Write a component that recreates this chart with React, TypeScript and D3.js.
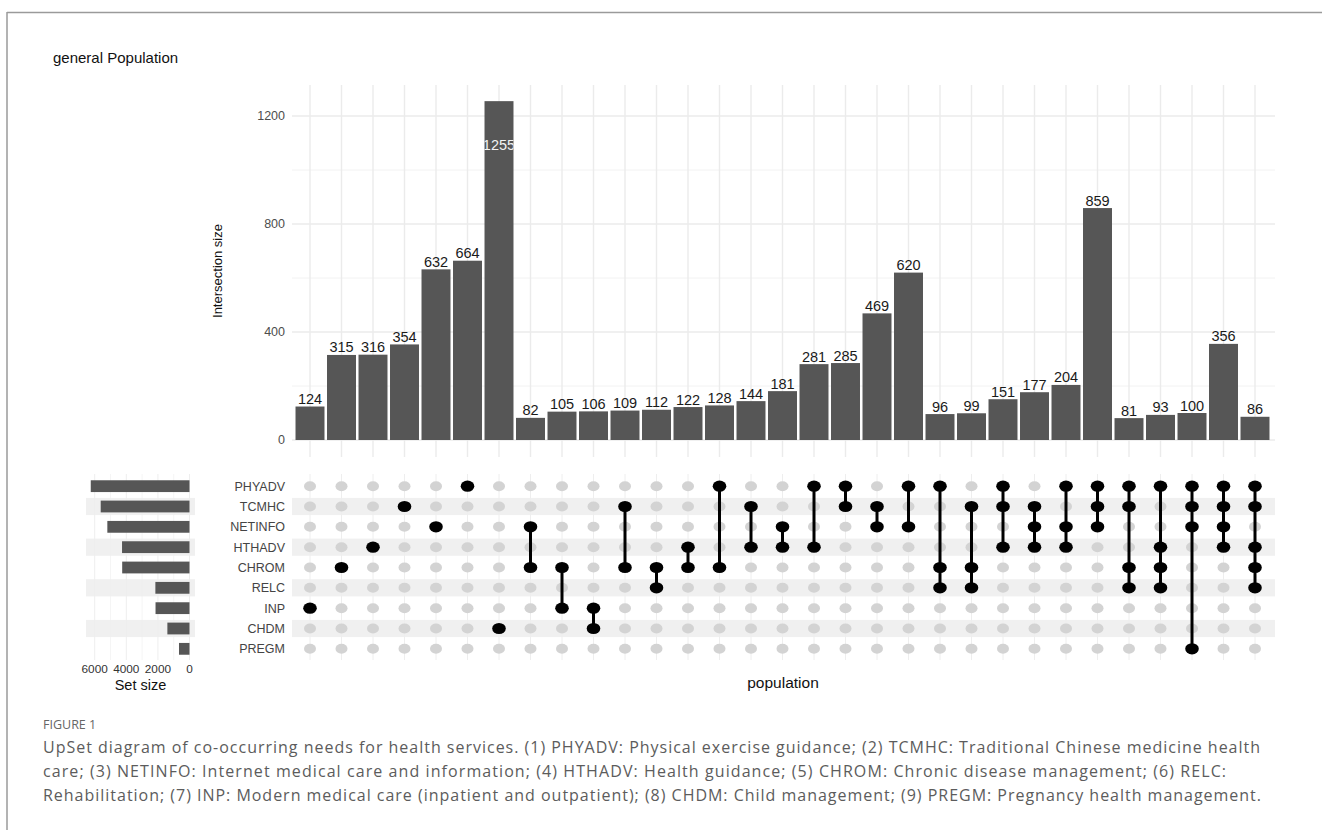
import React from "react";
import * as d3 from "d3";

const setNames = ["PHYADV", "TCMHC", "NETINFO", "HTHADV", "CHROM", "RELC", "INP", "CHDM", "PREGM"];
const setSizes = [6250, 5620, 5200, 4270, 4260, 2160, 2150, 1400, 665];

const intersectionSizes = [124, 315, 316, 354, 632, 664, 1255, 82, 105, 106, 109, 112, 122, 128, 144, 181, 281, 285, 469, 620, 96, 99, 151, 177, 204, 859, 81, 93, 100, 356, 86];
const intersectionMembers = [
  ["INP"], ["CHROM"], ["HTHADV"], ["TCMHC"], ["NETINFO"], ["PHYADV"], ["CHDM"],
  ["NETINFO", "CHROM"], ["CHROM", "INP"], ["INP", "CHDM"], ["TCMHC", "CHROM"], ["CHROM", "RELC"],
  ["HTHADV", "CHROM"], ["PHYADV", "CHROM"], ["TCMHC", "HTHADV"], ["NETINFO", "HTHADV"],
  ["PHYADV", "HTHADV"], ["PHYADV", "TCMHC"], ["TCMHC", "NETINFO"], ["PHYADV", "NETINFO"],
  ["PHYADV", "CHROM", "RELC"], ["TCMHC", "CHROM", "RELC"], ["PHYADV", "TCMHC", "HTHADV"],
  ["TCMHC", "NETINFO", "HTHADV"], ["PHYADV", "NETINFO", "HTHADV"], ["PHYADV", "TCMHC", "NETINFO"],
  ["PHYADV", "TCMHC", "CHROM", "RELC"], ["PHYADV", "HTHADV", "CHROM", "RELC"],
  ["PHYADV", "TCMHC", "NETINFO", "PREGM"], ["PHYADV", "TCMHC", "NETINFO", "HTHADV"],
  ["PHYADV", "TCMHC", "HTHADV", "CHROM", "RELC"],
];

const yTicks = [0, 400, 800, 1200];
const yMinor = [200, 600, 1000];
const setTicks = [6000, 4000, 2000, 0];
const setGrid = [0, 1000, 2000, 3000, 4000, 5000, 6000];

const titleText = "general Population";
const figureLabel = "FIGURE 1";
const captionLines = [
  "UpSet diagram of co-occurring needs for health services. (1) PHYADV: Physical exercise guidance; (2) TCMHC: Traditional Chinese medicine health",
  "care; (3) NETINFO: Internet medical care and information; (4) HTHADV: Health guidance; (5) CHROM: Chronic disease management; (6) RELC:",
  "Rehabilitation; (7) INP: Modern medical care (inpatient and outpatient); (8) CHDM: Child management; (9) PREGM: Pregnancy health management.",
];
const captionWidths = [1217, 1183, 1218];

const SANS = "'Liberation Sans', Arial, Helvetica, sans-serif";
const CAP = "'Open Sans', 'Noto Sans', sans-serif";

export default function App() {
  const W = 1322, H = 830;
  const ids = intersectionSizes.map((_, i) => String(i));
  const x = d3.scaleBand().domain(ids).range([294.25, 1270.75]).paddingInner(0.08).paddingOuter(0.04);
  const y = d3.scaleLinear().domain([0, 1200]).range([440, 116]);
  const row = d3.scaleBand().domain(setNames).range([476, 659]);
  const sx = d3.scaleLinear().domain([0, 6000]).range([189.5, 94.7]);

  const panelL = 292, panelR = 1275;
  const maxVal = d3.max(intersectionSizes) as number;
  const rowC = (s: string) => (row(s) as number) + row.bandwidth() / 2;
  const colC = (i: number) => (x(String(i)) as number) + x.bandwidth() / 2;

  return (
    <div style={{ position: "absolute", left: 0, top: 0 }}>
      <svg width={W} height={H} style={{ display: "block", background: "#fff" }}>
        {/* frame */}
        <line x1={7} y1={12.5} x2={W} y2={12.5} stroke="#9a9a9a" strokeWidth={1.5} />
        <line x1={7} y1={12} x2={7} y2={H} stroke="#9a9a9a" strokeWidth={1.5} />

        <text x={53} y={62.5} fontFamily={SANS} fontSize={15} fill="#111">{titleText}</text>

        {/* bar panel grid */}
        {yMinor.map((v) => (
          <line key={"mn" + v} x1={panelL} x2={panelR} y1={y(v)} y2={y(v)} stroke="#f2f2f2" strokeWidth={1} />
        ))}
        {yTicks.map((v) => (
          <line key={"mj" + v} x1={panelL} x2={panelR} y1={y(v)} y2={y(v)} stroke="#ebebeb" strokeWidth={1.4} />
        ))}
        {ids.map((id, i) => (
          <line key={"vg" + id} x1={colC(i)} x2={colC(i)} y1={85} y2={457} stroke="#ebebeb" strokeWidth={1.4} />
        ))}
        {yTicks.map((v) => (
          <text key={"yt" + v} x={285} y={y(v) + 4.3} textAnchor="end" fontFamily={SANS} fontSize={12.5} fill="#4d4d4d">{v}</text>
        ))}
        <text transform="translate(222,271) rotate(-90)" textAnchor="middle" fontFamily={SANS} fontSize={13} fill="#111">Intersection size</text>

        {/* bars */}
        <defs>
          {intersectionSizes.map((v, i) => (
            <clipPath key={"cp" + i} id={"barclip" + i}>
              <rect x={x(String(i))} y={y(v)} width={x.bandwidth()} height={y(0) - y(v)} />
            </clipPath>
          ))}
        </defs>
        {intersectionSizes.map((v, i) => (
          <rect key={"b" + i} x={x(String(i))} y={y(v)} width={x.bandwidth()} height={y(0) - y(v)} fill="#565656" />
        ))}
        {intersectionSizes.map((v, i) =>
          v === maxVal ? (
            <text key={"l" + i} x={colC(i)} y={y(v) + 49} textAnchor="middle" fontFamily={SANS} fontSize={14.5} fill="#f2f2f2" clipPath={`url(#barclip${i})`}>{v}</text>
          ) : (
            <text key={"l" + i} x={colC(i)} y={y(v) - 2.5} textAnchor="middle" fontFamily={SANS} fontSize={14.5} fill="#1a1a1a">{v}</text>
          )
        )}

        {/* striped bands */}
        {setNames.map((s, i) =>
          i % 2 === 1 ? (
            <g key={"band" + s}>
              <rect x={86} width={109} y={rowC(s) - 8.6} height={17.2} fill="#f0f0f0" />
              <rect x={panelL} width={panelR - panelL} y={rowC(s) - 8.6} height={17.2} fill="#f0f0f0" />
            </g>
          ) : null
        )}

        {/* set size grid */}
        {setGrid.map((v) => (
          <line key={"sg" + v} x1={sx(v)} x2={sx(v)} y1={474} y2={660} stroke="#eeeeee" strokeWidth={v % 2000 === 0 ? 1 : 0.6} />
        ))}
        {/* matrix grid */}
        {ids.map((id, i) => (
          <line key={"mg" + id} x1={colC(i)} x2={colC(i)} y1={474} y2={660} stroke="#eeeeee" strokeWidth={1} />
        ))}

        {/* set size bars */}
        {setNames.map((s, i) => (
          <rect key={"sb" + s} x={sx(setSizes[i])} y={rowC(s) - 5.9} width={sx(0) - sx(setSizes[i])} height={11.8} fill="#565656" />
        ))}
        {setTicks.map((v) => (
          <text key={"st" + v} x={sx(v)} y={672.5} textAnchor="middle" fontFamily={SANS} fontSize={11.8} fill="#333">{v}</text>
        ))}
        <text x={140.5} y={690} textAnchor="middle" fontFamily={SANS} fontSize={14.5} fill="#111">Set size</text>

        {/* set labels */}
        {setNames.map((s) => (
          <text key={"sl" + s} x={285} y={rowC(s) + 4.5} textAnchor="end" fontFamily={SANS} fontSize={12.5} fill="#444">{s}</text>
        ))}

        {/* matrix dots */}
        {ids.map((id, i) => {
          const mem = intersectionMembers[i];
          const ys = mem.map((m) => rowC(m));
          const y0 = d3.min(ys) as number, y1 = d3.max(ys) as number;
          return (
            <g key={"col" + id}>
              {setNames.map((s) =>
                mem.includes(s) ? null : (
                  <ellipse key={s} cx={colC(i)} cy={rowC(s)} rx={6} ry={5} fill="#d3d3d3" />
                )
              )}
              {mem.length > 1 ? (
                <line x1={colC(i)} x2={colC(i)} y1={y0} y2={y1} stroke="#000" strokeWidth={3} />
              ) : null}
              {mem.map((s) => (
                <ellipse key={"f" + s} cx={colC(i)} cy={rowC(s)} rx={6.8} ry={5.6} fill="#000" />
              ))}
            </g>
          );
        })}

        <text x={783} y={688} textAnchor="middle" fontFamily={SANS} fontSize={15.5} fill="#111">population</text>

        {/* caption */}
        <text x={43} y={729} fontFamily={CAP} fontSize={12.5} fill="#666">{figureLabel}</text>
        {captionLines.map((t, i) => (
          <text key={"cap" + i} x={43} y={753 + i * 23.8} fontFamily={CAP} fontSize={16} fill="#5c5c5c"
            textLength={captionWidths[i]} lengthAdjust="spacing">{t}</text>
        ))}
      </svg>
    </div>
  );
}
